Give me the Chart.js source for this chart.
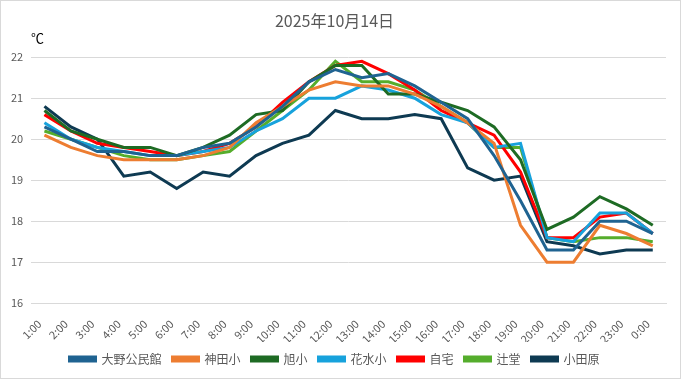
<!DOCTYPE html>
<html>
<head>
<meta charset="utf-8">
<script src="https://cdn.jsdelivr.net/npm/chart.js@4"></script>
<style>
    body { margin: 0; background: #fff; }
    #wrap { width: 681px; height: 379px; border: 1px solid #d9d9d9; box-sizing: border-box; }
</style>
</head>
<body>
<div id="wrap"><canvas id="tempChart" width="679" height="377"></canvas></div>
<script>
const horas = ['1:00', '2:00', '3:00', '4:00', '5:00', '6:00', '7:00', '8:00', '9:00', '10:00', '11:00', '12:00',
    '13:00', '14:00', '15:00', '16:00', '17:00', '18:00', '19:00', '20:00', '21:00', '22:00', '23:00', '0:00'];

const oono = [20.3, 20.0, 19.7, 19.7, 19.6, 19.6, 19.8, 19.9, 20.3, 20.8, 21.4, 21.7, 21.5, 21.6, 21.3, 20.9, 20.5, 19.6, 18.5, 17.3, 17.3, 18.0, 18.0, 17.7];
const kanda = [20.1, 19.8, 19.6, 19.5, 19.5, 19.5, 19.6, 19.8, 20.4, 20.8, 21.2, 21.4, 21.3, 21.3, 21.1, 20.8, 20.4, 19.9, 17.9, 17.0, 17.0, 17.9, 17.7, 17.4];
const asahi = [20.7, 20.2, 20.0, 19.8, 19.8, 19.6, 19.8, 20.1, 20.6, 20.7, 21.4, 21.8, 21.8, 21.1, 21.1, 20.9, 20.7, 20.3, 19.5, 17.8, 18.1, 18.6, 18.3, 17.9];
const hanamizu = [20.4, 20.0, 19.8, 19.7, 19.6, 19.6, 19.7, 19.8, 20.2, 20.5, 21.0, 21.0, 21.3, 21.2, 21.0, 20.6, 20.4, 19.8, 19.9, 17.6, 17.5, 18.2, 18.2, 17.7];
const jitaku = [20.6, 20.2, 19.9, 19.8, 19.7, 19.6, 19.7, 19.9, 20.3, 20.9, 21.4, 21.8, 21.9, 21.6, 21.2, 20.7, 20.4, 20.1, 19.2, 17.6, 17.6, 18.1, 18.2, 17.7];
const tsujido = [20.2, 20.0, 19.8, 19.6, 19.5, 19.5, 19.6, 19.7, 20.2, 20.7, 21.2, 21.9, 21.4, 21.4, 21.2, 20.8, 20.4, 19.8, 19.8, 17.6, 17.5, 17.6, 17.6, 17.5];
const odawara = [20.8, 20.3, 20.0, 19.1, 19.2, 18.8, 19.2, 19.1, 19.6, 19.9, 20.1, 20.7, 20.5, 20.5, 20.6, 20.5, 19.3, 19.0, 19.1, 17.5, 17.4, 17.2, 17.3, 17.3];

const yTicks = [16, 17, 18, 19, 20, 21, 22];

const fonte = '"Noto Sans CJK JP", "Noto Sans", sans-serif';
const cinza = '#595959';

function serie(label, data, cor) {
    return {
        label: label,
        data: data,
        borderColor: cor,
        backgroundColor: cor,
        borderWidth: 3,
        pointRadius: 0,
        tension: 0
    };
}

// unidade °C acima do eixo y
const unidadePlugin = {
    id: 'unidade',
    afterDraw(chart) {
        const c = chart.ctx;
        c.save();
        c.font = '13px ' + fonte;
        c.fillStyle = '#000';
        c.textAlign = 'left';
        c.textBaseline = 'middle';
        c.fillText('℃', 30, 37);
        c.restore();
    }
};

const ctx = document.getElementById('tempChart').getContext('2d');
new Chart(ctx, {
    type: 'line',
    data: {
        labels: horas,
        datasets: [
            serie('大野公民館', oono, '#1f6391'),
            serie('神田小', kanda, '#ed7d31'),
            serie('旭小', asahi, '#1e6b24'),
            serie('花水小', hanamizu, '#17a2dc'),
            serie('自宅', jitaku, '#ff0000'),
            serie('辻堂', tsujido, '#55ad2c'),
            serie('小田原', odawara, '#0e3a52')
        ]
    },
    options: {
        responsive: false,
        animation: false,
        layout: { padding: { left: 2, right: 14, top: 8, bottom: 3 } },
        plugins: {
            title: {
                display: true,
                text: '2025年10月14日',
                color: cinza,
                font: { family: fonte, size: 16, weight: 'normal' },
                padding: { top: 2, bottom: 27 }
            },
            legend: {
                position: 'bottom',
                labels: {
                    color: cinza,
                    font: { family: fonte, size: 12 },
                    boxWidth: 26,
                    boxHeight: 4,
                    padding: 11
                }
            },
            tooltip: { enabled: false }
        },
        scales: {
            x: {
                offset: true,
                grid: { display: false },
                border: { color: '#d9d9d9' },
                afterFit: scale => { scale.height -= 10; },
                ticks: {
                    color: cinza,
                    font: { family: fonte, size: 11 },
                    maxRotation: 45,
                    minRotation: 45,
                    autoSkip: false,
                    padding: 6,
                    labelOffset: -5
                }
            },
            y: {
                min: yTicks[0],
                max: yTicks[yTicks.length - 1],
                afterBuildTicks: axis => { axis.ticks = yTicks.map(v => ({ value: v })); },
                grid: { color: '#d9d9d9', drawTicks: false },
                border: { display: false },
                ticks: {
                    color: cinza,
                    font: { family: fonte, size: 11 },
                    padding: 8
                }
            }
        }
    },
    plugins: [unidadePlugin]
});
</script>
</body>
</html>
